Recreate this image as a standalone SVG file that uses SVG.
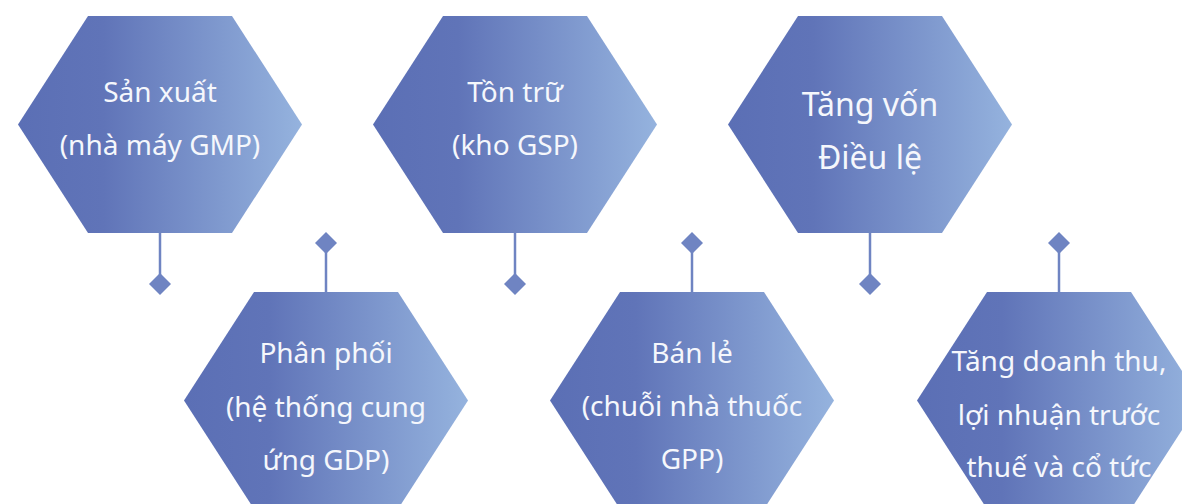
<svg xmlns="http://www.w3.org/2000/svg" width="1182" height="504" viewBox="0 0 1182 504">
  <defs>
    <linearGradient id="hexGrad" x1="0" y1="0" x2="1" y2="0">
      <stop offset="0" stop-color="#5b6fb5"/>
      <stop offset="0.3" stop-color="#6074b8"/>
      <stop offset="1" stop-color="#95b3de"/>
    </linearGradient>
    <polygon id="hex" points="-142,0 -72,-108.5 72,-108.5 142,0 72,108.5 -72,108.5"/>
    <polygon id="dia" points="0,-11 11,0 0,11 -11,0"/>
  </defs>
  <style>
    .hex { fill: url(#hexGrad); }
    .lbl { font-family: "Noto Sans", "Open Sans", sans-serif; font-size: 28px; fill: #f5f7fc; text-anchor: middle; }
    .big { font-size: 32px; }
    .conn line { stroke: #6f84c2; stroke-width: 2.5; }
    .conn use { fill: #6f84c2; }
  </style>

  <g id="connectors" class="conn">
    <line x1="160" y1="233" x2="160" y2="284"/>
    <use href="#dia" x="160" y="284"/>
    <line x1="326" y1="243" x2="326" y2="292"/>
    <use href="#dia" x="326" y="243"/>
    <line x1="515" y1="233" x2="515" y2="284"/>
    <use href="#dia" x="515" y="284"/>
    <line x1="692" y1="243" x2="692" y2="292"/>
    <use href="#dia" x="692" y="243"/>
    <line x1="870" y1="233" x2="870" y2="284"/>
    <use href="#dia" x="870" y="284"/>
    <line x1="1059" y1="243" x2="1059" y2="292"/>
    <use href="#dia" x="1059" y="243"/>
  </g>

  <g id="node-san-xuat">
    <use href="#hex" class="hex" x="160" y="124.5"/>
    <text class="lbl" x="160" y="102">Sản xuất</text>
    <text class="lbl" x="160" y="155">(nhà máy GMP)</text>
  </g>

  <g id="node-ton-tru">
    <use href="#hex" class="hex" x="515" y="124.5"/>
    <text class="lbl" x="515" y="102">Tồn trữ</text>
    <text class="lbl" x="515" y="155">(kho GSP)</text>
  </g>

  <g id="node-tang-von">
    <use href="#hex" class="hex" x="870" y="124.5"/>
    <text class="lbl big" x="870" y="116">Tăng vốn</text>
    <text class="lbl big" x="870" y="169">Điều lệ</text>
  </g>

  <g id="node-phan-phoi">
    <use href="#hex" class="hex" x="326" y="400.5"/>
    <text class="lbl" x="326" y="363">Phân phối</text>
    <text class="lbl" x="326" y="417">(hệ thống cung</text>
    <text class="lbl" x="326" y="470">ứng GDP)</text>
  </g>

  <g id="node-ban-le">
    <use href="#hex" class="hex" x="692" y="400.5"/>
    <text class="lbl" x="692" y="363">Bán lẻ</text>
    <text class="lbl" x="692" y="416">(chuỗi nhà thuốc</text>
    <text class="lbl" x="692" y="469">GPP)</text>
  </g>

  <g id="node-tang-doanh-thu">
    <use href="#hex" class="hex" x="1059" y="400.5"/>
    <text class="lbl" x="1059" y="371">Tăng doanh thu,</text>
    <text class="lbl" x="1059" y="425">lợi nhuận trước</text>
    <text class="lbl" x="1059" y="477">thuế và cổ tức</text>
  </g>
</svg>
